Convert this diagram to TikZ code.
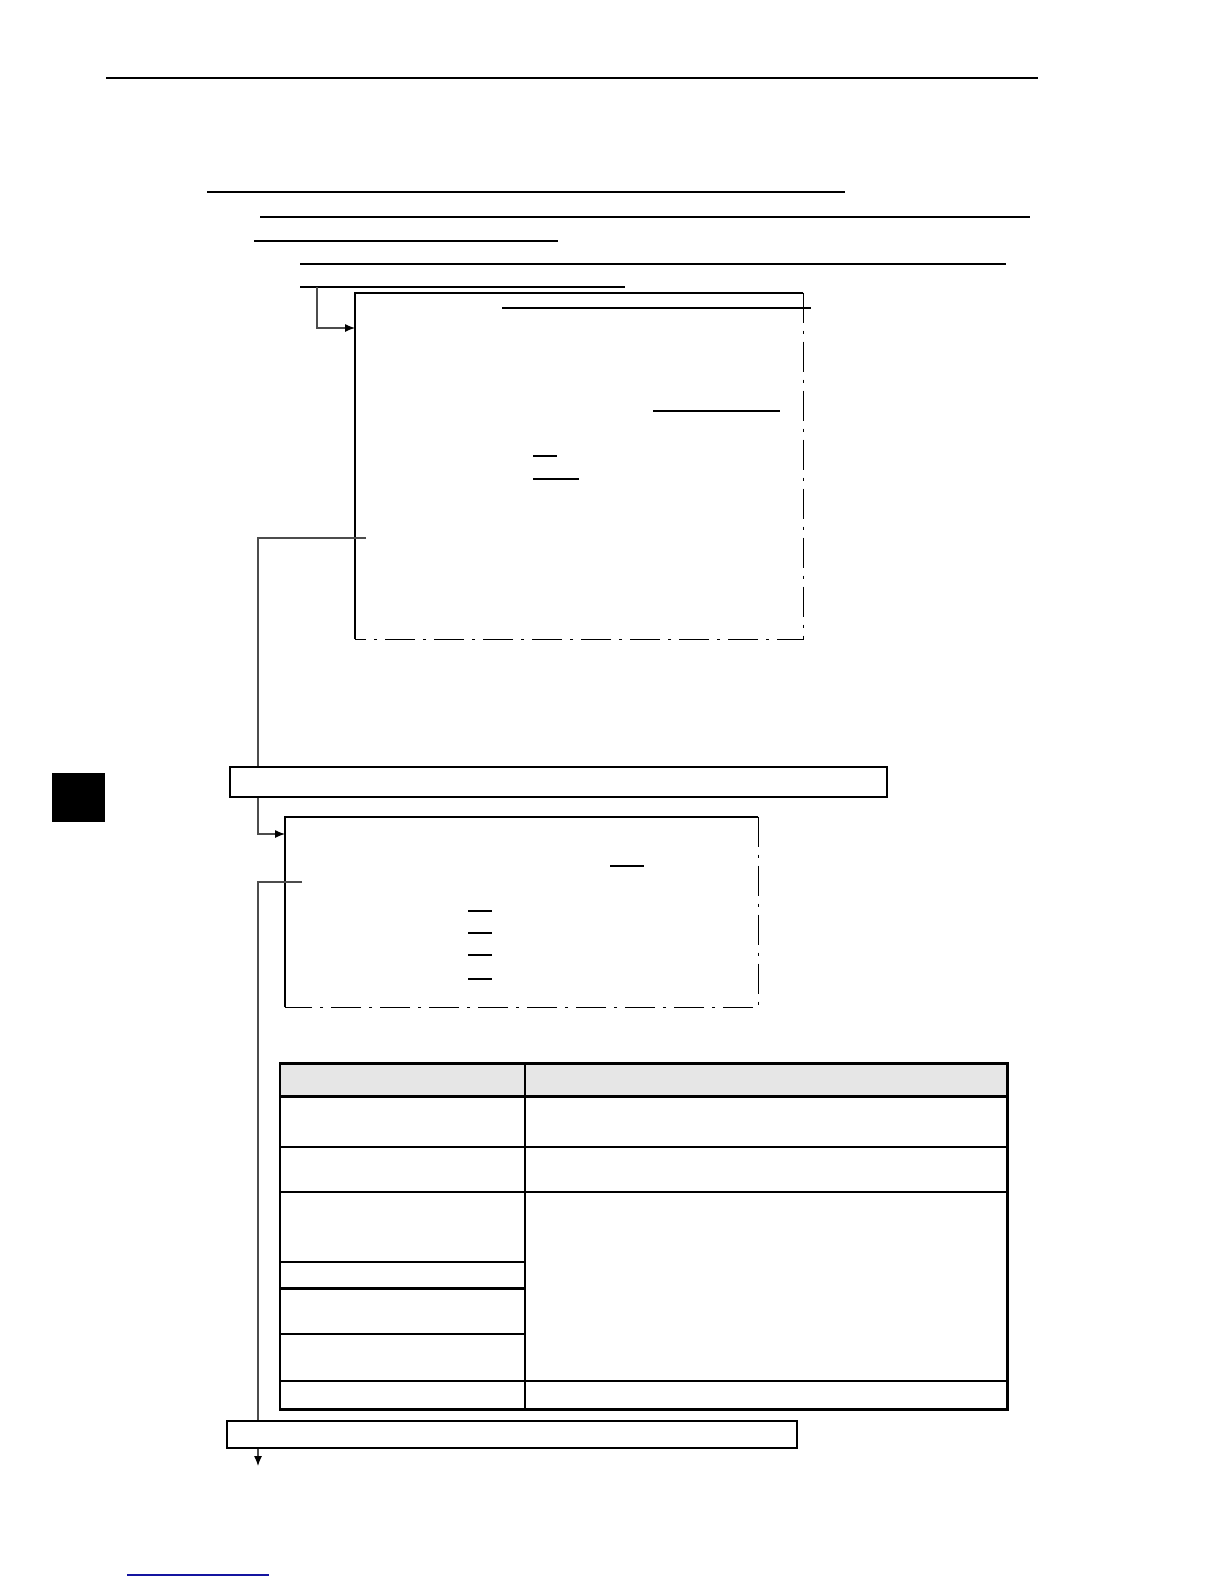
\documentclass[tikz,border=0pt]{standalone}
\usepackage{tikz}
\usetikzlibrary{arrows.meta}
\usepackage{xcolor}
\definecolor{linkblue}{RGB}{20,20,160}
\definecolor{headgray}{RGB}{230,230,230}
\begin{document}
\begin{tikzpicture}[x=0.5bp,y=-0.5bp]
		\tikzstyle{rule} = [line width=0.7pt]
		\tikzstyle{frame} = [line width=1pt]
		\tikzstyle{dashdot} = [line width=0.7pt,dash pattern=on 15bp off 4bp on 1.5bp off 4bp]
		\tikzstyle{link} = [line width=0.6pt,draw=black!70,-{Latex[length=5bp,width=4bp,fill=black,color=black]}]
		\tikzstyle{linkplain} = [line width=0.6pt,draw=black!70]
		\tikzstyle{banner} = [draw,line width=0.6pt,inner sep=0pt]
		\tikzstyle{tabline} = [line width=0.7pt]
		\tikzstyle{tabframe} = [line width=1.5pt]
		\useasboundingbox (0,0) rectangle (1224,1584);
		\draw[rule] (106,78)--(1038,78);
		\draw[rule] (207,192)--(845,192);
		\draw[rule] (260,217)--(1030,217);
		\draw[rule] (254,241)--(558,241);
		\draw[rule] (300,264)--(1006,264);
		\draw[rule] (300,287)--(625,287);
		\fill (52,773) rectangle (105,822);
		\draw[line width=0.8pt,linkblue] (127,1575)--(269,1575);
		\node[inner sep=0pt,minimum width=224bp,minimum height=173bp] (box1) at (579,466) {};
		\draw[frame] (box1.south west)--(box1.north west)--(box1.north east);
		\draw[dashdot] (box1.north east)--(box1.south east)--(box1.south west);
		\draw[rule] (502,308)--(811,308);
		\draw[rule] (653,411)--(780,411);
		\draw[rule] (533,456)--(557,456);
		\draw[rule] (533,479)--(579,479);
		\node[inner sep=0pt,minimum width=236.5bp,minimum height=95bp] (box2) at (521.5,912) {};
		\draw[frame] (box2.south west)--(box2.north west)--(box2.north east);
		\draw[dashdot] (box2.north east)--(box2.south east)--(box2.south west);
		\draw[rule] (610,866)--(644,866);
		\draw[rule] (468,911)--(492,911);
		\draw[rule] (468,933)--(492,933);
		\draw[rule] (468,955)--(492,955);
		\draw[rule] (468,979)--(492,979);
		\node[banner,minimum width=328.5bp,minimum height=15pt] (ban1) at (558.5,782) {};
		\node[banner,minimum width=285bp,minimum height=13.5bp] (ban2) at (512,1434.5) {};
		\coordinate (s1) at (317,287);
		\coordinate (t1) at (355,328);
		\coordinate (s2) at (366,538);
		\coordinate (t2) at (285,834);
		\coordinate (s3) at (302,882);
		\coordinate (t3) at (258,1466);
		\draw[link] (s1)|-(t1);
		\draw[linkplain] (s2)-|(ban1.north -| 258,0);
		\draw[link] (ban1.south -| 258,0)|-(t2);
		\draw[linkplain] (s3)-|(ban2.north -| 258,0);
		\draw[link] (ban2.south -| 258,0)--(t3);
		\fill[headgray] (280,1063) rectangle (1007,1096);
		\draw[tabline] (525,1063)--(525,1409);
		\draw[tabline] (280,1147)--(1007,1147);
		\draw[tabline] (280,1192)--(1007,1192);
		\draw[tabline] (280,1262)--(525,1262);
		\draw[tabframe] (280,1288)--(525,1288);
		\draw[tabline] (280,1334)--(525,1334);
		\draw[tabline] (280,1381)--(1007,1381);
		\draw[tabframe] (280,1096)--(1007,1096);
		\draw[tabframe] (280,1063) rectangle (1007,1409);
		\end{tikzpicture}
\end{document}
